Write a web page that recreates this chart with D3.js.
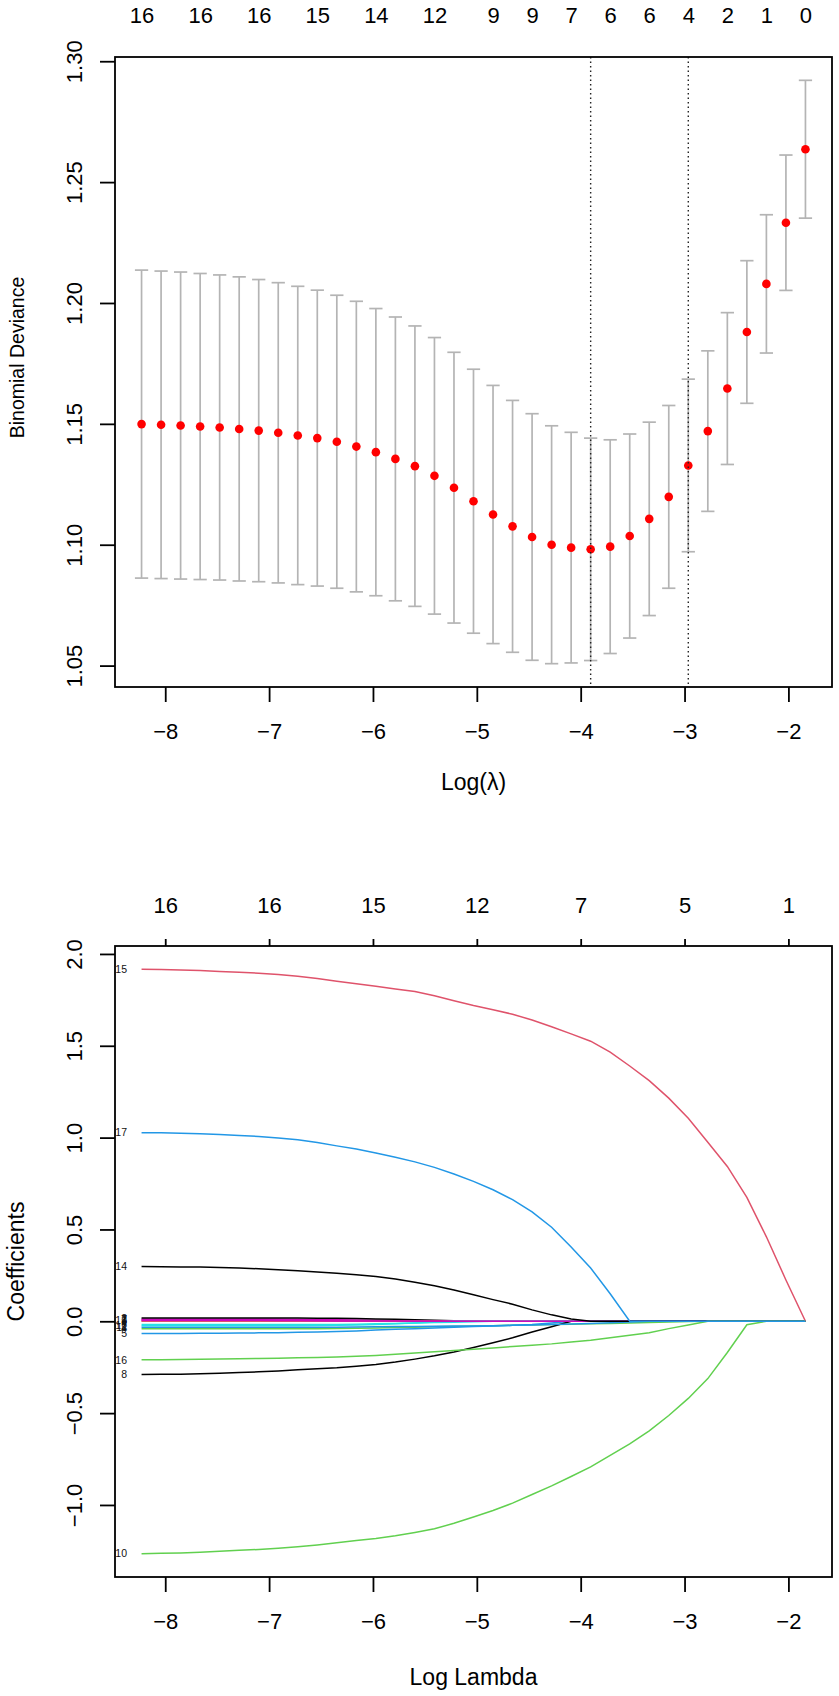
<!DOCTYPE html>
<html>
<head>
<meta charset="utf-8">
<script src="https://cdnjs.cloudflare.com/ajax/libs/d3/7.8.5/d3.min.js"></script>
<style>
  body { margin: 0; background: #fff; }
  svg { display: block; }
</style>
</head>
<body>
<div id="chart-area"></div>
<script>
/*
*    lasso cross-validation + coefficient path
*/
// ---- data ----
var logLambda = [-8.228, -8.040, -7.852, -7.664, -7.476, -7.288, -7.100, -6.912, -6.724, -6.536,
                 -6.348, -6.160, -5.972, -5.784, -5.596, -5.408, -5.220, -5.032, -4.844, -4.656,
                 -4.468, -4.280, -4.092, -3.904, -3.716, -3.528, -3.340, -3.152, -2.964, -2.776,
                 -2.588, -2.400, -2.212, -2.024, -1.836];
// mean cv deviance and its standard error
var cvm = [1.1499, 1.1496, 1.1493, 1.1489, 1.1485, 1.1479, 1.1472, 1.1463, 1.1452, 1.1441,
           1.1426, 1.1406, 1.1383, 1.1355, 1.1325, 1.1285, 1.1236, 1.1180, 1.1125, 1.1076,
           1.1032, 1.1000, 1.0988, 1.0981, 1.0992, 1.1036, 1.1107, 1.1198, 1.1328, 1.1470,
           1.1646, 1.1880, 1.2079, 1.2332, 1.2636];
var cvsd = [0.0637, 0.0636, 0.0635, 0.0633, 0.0631, 0.0629, 0.0625, 0.0621, 0.0617, 0.0612,
            0.0606, 0.0601, 0.0594, 0.0587, 0.0580, 0.0572, 0.0560, 0.0546, 0.0534, 0.0521,
            0.0510, 0.0492, 0.0477, 0.0460, 0.0442, 0.0422, 0.0400, 0.0378, 0.0357, 0.0332,
            0.0314, 0.0295, 0.0286, 0.0280, 0.0285];
var dfIndex = [0, 3, 6, 9, 12, 15, 18, 20, 22, 24, 26, 28, 30, 32, 34];
var dfLabels = ["16", "16", "16", "15", "14", "12", "9", "9", "7", "6", "6", "4", "2", "1", "0"];
var minIndex = 23, seIndex = 28;   // lambda.min, lambda.1se

var devTicks = [1.05, 1.10, 1.15, 1.20, 1.25, 1.30];
var lambdaTicks = [-8, -7, -6, -5, -4, -3, -2];
var coefTicks = [-1.0, -0.5, 0.0, 0.5, 1.0, 1.5, 2.0];
var coefTopLabels = ["16", "16", "15", "12", "7", "5", "1"];

// coefficient paths (variable 1..17), one value per lambda
var coef1 = [0.012, 0.012, 0.012, 0.012, 0.012, 0.012, 0.012, 0.012, 0.011, 0.010, 0.009, 0.007, 0.005, 0.003, 0.001,
             0, 0, 0, 0, 0, 0, 0, 0, 0, 0, 0, 0, 0, 0, 0, 0, 0, 0, 0, 0];
var coef2 = [0.018, 0.018, 0.018, 0.018, 0.018, 0.018, 0.018, 0.018, 0.018, 0.017, 0.016, 0.015, 0.013, 0.011, 0.008,
             0.005, 0.003, 0, 0, 0, 0, 0, 0, 0, 0, 0, 0, 0, 0, 0, 0, 0, 0, 0, 0];
var coef3 = [0, 0, 0, 0, 0, 0, 0, 0, 0, 0, 0, 0, 0, 0, 0, 0, 0, 0, 0, 0, 0, 0, 0, 0, 0, 0, 0, 0, 0, 0, 0, 0, 0, 0, 0];
var coef4 = [-0.040, -0.040, -0.040, -0.040, -0.040, -0.040, -0.040, -0.040, -0.040, -0.040, -0.039, -0.038, -0.036,
             -0.034, -0.032, -0.030, -0.028, -0.026, -0.024, -0.022, -0.020, -0.018, -0.016, -0.014, -0.012, -0.010,
             -0.007, -0.004, -0.001, 0, 0, 0, 0, 0, 0];
var coef5 = [-0.066, -0.066, -0.066, -0.065, -0.065, -0.064, -0.063, -0.062, -0.060, -0.058, -0.056, -0.053, -0.048,
             -0.044, -0.040, -0.036, -0.032, -0.028, -0.025, -0.022, -0.018, -0.010, 0, 0, 0, 0, 0, 0, 0, 0, 0, 0, 0, 0, 0];
var coef6 = [-0.018, -0.018, -0.018, -0.018, -0.018, -0.018, -0.018, -0.018, -0.018, -0.018, -0.017, -0.016, -0.014,
             -0.012, -0.010, -0.007, -0.005, -0.002, 0, 0, 0, 0, 0, 0, 0, 0, 0, 0, 0, 0, 0, 0, 0, 0, 0];
var coef7 = [0.008, 0.008, 0.008, 0.008, 0.008, 0.008, 0.008, 0.007, 0.006, 0.005, 0.003, 0.001,
             0, 0, 0, 0, 0, 0, 0, 0, 0, 0, 0, 0, 0, 0, 0, 0, 0, 0, 0, 0, 0, 0, 0];
var coef8 = [-0.290, -0.289, -0.288, -0.286, -0.283, -0.279, -0.275, -0.270, -0.264, -0.258, -0.253, -0.245, -0.235,
             -0.222, -0.206, -0.188, -0.167, -0.143, -0.117, -0.090, -0.058, -0.030, 0, 0, 0, 0, 0, 0, 0, 0, 0, 0, 0, 0, 0];
var coef9 = [0.002, 0.002, 0.002, 0.002, 0.002, 0.002, 0.002, 0.002, 0.002,
             0, 0, 0, 0, 0, 0, 0, 0, 0, 0, 0, 0, 0, 0, 0, 0, 0, 0, 0, 0, 0, 0, 0, 0, 0, 0];
var coef10 = [-1.265, -1.263, -1.261, -1.257, -1.252, -1.247, -1.242, -1.236, -1.228, -1.218, -1.206, -1.193, -1.182,
              -1.168, -1.150, -1.130, -1.100, -1.066, -1.030, -0.990, -0.943, -0.896, -0.845, -0.793, -0.730, -0.668,
              -0.597, -0.513, -0.420, -0.312, -0.170, -0.019, 0, 0, 0];
var coef11 = [-0.032, -0.032, -0.032, -0.032, -0.032, -0.032, -0.032, -0.032, -0.032, -0.032, -0.032, -0.031, -0.030,
              -0.029, -0.028, -0.027, -0.026, -0.025, -0.024, -0.022, -0.020, -0.018, -0.015, -0.012, -0.008, -0.004,
              0, 0, 0, 0, 0, 0, 0, 0, 0];
var coef12 = [-0.024, -0.024, -0.024, -0.024, -0.024, -0.024, -0.024, -0.024, -0.024, -0.023, -0.022, -0.020, -0.017,
              -0.013, -0.009, -0.004, 0, 0, 0, 0, 0, 0, 0, 0, 0, 0, 0, 0, 0, 0, 0, 0, 0, 0, 0];
var coef13 = [0.005, 0.005, 0.005, 0.005, 0.005, 0.005, 0.005, 0.004, 0.004, 0.003, 0.002, 0.002, 0.001, 0.001,
              0, 0, 0, 0, 0, 0, 0, 0, 0, 0, 0, 0, 0, 0, 0, 0, 0, 0, 0, 0, 0];
var coef14 = [0.298, 0.297, 0.296, 0.295, 0.293, 0.290, 0.286, 0.281, 0.275, 0.268, 0.261, 0.253, 0.244, 0.230,
              0.213, 0.193, 0.170, 0.145, 0.118, 0.093, 0.062, 0.035, 0.012, 0, 0, 0, 0, 0, 0, 0, 0, 0, 0, 0, 0];
var coef15 = [1.916, 1.915, 1.913, 1.910, 1.905, 1.900, 1.895, 1.888, 1.878, 1.866, 1.851, 1.838, 1.824, 1.809,
              1.795, 1.772, 1.745, 1.719, 1.696, 1.672, 1.640, 1.604, 1.565, 1.525, 1.465, 1.390, 1.310, 1.215,
              1.105, 0.975, 0.843, 0.675, 0.460, 0.225, 0];
var coef16 = [-0.210, -0.209, -0.208, -0.207, -0.206, -0.204, -0.203, -0.201, -0.199, -0.197, -0.194, -0.190, -0.186,
              -0.180, -0.173, -0.166, -0.159, -0.152, -0.145, -0.137, -0.130, -0.123, -0.113, -0.103, -0.089, -0.076,
              -0.062, -0.040, -0.020, 0, 0, 0, 0, 0, 0];
var coef17 = [1.027, 1.026, 1.024, 1.021, 1.017, 1.012, 1.006, 0.998, 0.988, 0.973, 0.955, 0.938, 0.916, 0.893,
              0.868, 0.838, 0.802, 0.762, 0.716, 0.662, 0.596, 0.512, 0.405, 0.290, 0.150, 0, 0, 0, 0, 0, 0, 0, 0, 0, 0];
var coefs = [coef1, coef2, coef3, coef4, coef5, coef6, coef7, coef8, coef9,
             coef10, coef11, coef12, coef13, coef14, coef15, coef16, coef17];

// R palette, matplot cycles through the first six
var palette = ["#000000", "#DF536B", "#61D04F", "#2297E6", "#28E2E5", "#CD0BBC"];

// ---- layout ----
var W = 839, H = 1696;
var left = 115, right = 832;
var top1 = 57, bot1 = 687;     // cv panel
var top2 = 946, bot2 = 1577;   // coefficient panel
var FONT = "Liberation Sans, Arial, Helvetica, sans-serif";

var svg = d3.select("#chart-area")
  .append("svg")
    .attr("width", W)
    .attr("height", H)
    .attr("font-family", FONT);

svg.append("rect").attr("width", W).attr("height", H).attr("fill", "#fff");

// R-style 4% padding
function padded(lo, hi) {
  var d = (hi - lo) * 0.04;
  return [lo - d, hi + d];
}

var x = d3.scaleLinear()
  .domain(padded(d3.min(logLambda), d3.max(logLambda)))
  .range([left, right]);

var cvUp = cvm.map(function(m, i) { return m + cvsd[i]; });
var cvLo = cvm.map(function(m, i) { return m - cvsd[i]; });
var y1 = d3.scaleLinear()
  .domain(padded(d3.min(cvLo), d3.max(cvUp)))
  .range([bot1, top1]);

var y2 = d3.scaleLinear()
  .domain(padded(d3.min(coefs, function(c) { return d3.min(c); }),
                 d3.max(coefs, function(c) { return d3.max(c); })))
  .range([bot2, top2]);

function styleAxis(g, size) {
  g.attr("font-size", size).attr("font-family", FONT);
  g.select(".domain").remove();
  g.selectAll(".tick line").attr("stroke", "#000").attr("stroke-width", 1.8);
  g.selectAll(".tick text").attr("fill", "#000");
}

function bottomAxis(yPos) {
  var g = svg.append("g")
    .attr("transform", "translate(0," + yPos + ")")
    .call(d3.axisBottom(x).tickValues(lambdaTicks).tickSize(15).tickFormat(d3.format("d")));
  styleAxis(g, 22);
  g.selectAll(".tick text").attr("y", 52).attr("dy", 0);
  return g;
}

function leftAxis(scale, ticks, fmt) {
  var g = svg.append("g")
    .attr("transform", "translate(" + left + ",0)")
    .call(d3.axisLeft(scale).tickValues(ticks).tickSize(15).tickFormat(d3.format(fmt)));
  styleAxis(g, 22);
  // labels parallel to the axis, like R's las=0
  g.selectAll(".tick text")
    .attr("x", 0).attr("dy", 0)
    .attr("text-anchor", "middle")
    .attr("transform", "translate(-33,0) rotate(-90)");
  return g;
}

function box(t, b) {
  svg.append("rect")
    .attr("x", left).attr("y", t)
    .attr("width", right - left).attr("height", b - t)
    .attr("fill", "none").attr("stroke", "#000").attr("stroke-width", 1.8);
}

// ================= top: cross-validation curve =================
var capW = (d3.max(logLambda) - d3.min(logLambda)) * 0.01;

var bars = svg.append("g").attr("stroke", "#B4B4B4").attr("stroke-width", 1.7);
logLambda.forEach(function(l, i) {
  bars.append("line")
    .attr("x1", x(l)).attr("x2", x(l))
    .attr("y1", y1(cvUp[i])).attr("y2", y1(cvLo[i]));
  bars.append("line")
    .attr("x1", x(l - capW)).attr("x2", x(l + capW))
    .attr("y1", y1(cvUp[i])).attr("y2", y1(cvUp[i]));
  bars.append("line")
    .attr("x1", x(l - capW)).attr("x2", x(l + capW))
    .attr("y1", y1(cvLo[i])).attr("y2", y1(cvLo[i]));
});

svg.append("g").selectAll("circle")
  .data(logLambda)
  .enter().append("circle")
    .attr("cx", function(d) { return x(d); })
    .attr("cy", function(d, i) { return y1(cvm[i]); })
    .attr("r", 4.3)
    .attr("fill", "#FF0000");

// number of nonzero coefficients along the top
var dfAxis = svg.append("g")
  .attr("transform", "translate(0," + top1 + ")")
  .call(d3.axisTop(x)
    .tickValues(dfIndex.map(function(i) { return logLambda[i]; }))
    .tickSize(0)
    .tickFormat(function(d, i) { return dfLabels[i]; }));
styleAxis(dfAxis, 22);
dfAxis.selectAll(".tick line").remove();
dfAxis.selectAll(".tick text").attr("y", -34).attr("dy", 0);

// lambda.min and lambda.1se
[minIndex, seIndex].forEach(function(i) {
  svg.append("line")
    .attr("x1", x(logLambda[i])).attr("x2", x(logLambda[i]))
    .attr("y1", top1).attr("y2", bot1)
    .attr("stroke", "#222").attr("stroke-width", 1.4)
    .attr("stroke-dasharray", "1.5,3");
});

bottomAxis(bot1);
leftAxis(y1, devTicks, ".2f");
box(top1, bot1);

svg.append("text")
  .attr("x", (left + right) / 2).attr("y", 790)
  .attr("font-size", 23).attr("text-anchor", "middle")
  .text("Log(λ)");

svg.append("text")
  .attr("transform", "translate(24,357.5) rotate(-90)")
  .attr("font-size", 19.5).attr("text-anchor", "middle")
  .text("Binomial Deviance");

// ================= bottom: coefficient paths =================
var line = d3.line()
  .x(function(d, i) { return x(logLambda[i]); })
  .y(function(d) { return y2(d); });

var paths = svg.append("g").attr("fill", "none").attr("stroke-width", 1.5);
coefs.forEach(function(c, k) {
  var v = k + 1;
  paths.append("path")
    .attr("d", line(c))
    .attr("stroke", palette[(v + 4) % 6]);
});

// variable numbers at the left end of each nonzero path
var labs = svg.append("g").attr("font-size", 10.5).attr("text-anchor", "end").attr("fill", "#111");
coefs.forEach(function(c, k) {
  if (d3.max(c, Math.abs) === 0) return;
  labs.append("text")
    .attr("x", x(logLambda[0]) - 14.5)
    .attr("y", y2(c[0]))
    .attr("dy", "0.35em")
    .text(k + 1);
});

var coefTop = svg.append("g")
  .attr("transform", "translate(0," + top2 + ")")
  .call(d3.axisTop(x).tickValues(lambdaTicks).tickSize(7)
    .tickFormat(function(d, i) { return coefTopLabels[i]; }));
styleAxis(coefTop, 22);
coefTop.selectAll(".tick text").attr("y", -33).attr("dy", 0);

bottomAxis(bot2);
leftAxis(y2, coefTicks, ".1f");
box(top2, bot2);

svg.append("text")
  .attr("x", (left + right) / 2).attr("y", 1685)
  .attr("font-size", 23).attr("text-anchor", "middle")
  .text("Log Lambda");

svg.append("text")
  .attr("transform", "translate(24,1261.5) rotate(-90)")
  .attr("font-size", 23).attr("text-anchor", "middle")
  .text("Coefficients");
</script>
</body>
</html>
